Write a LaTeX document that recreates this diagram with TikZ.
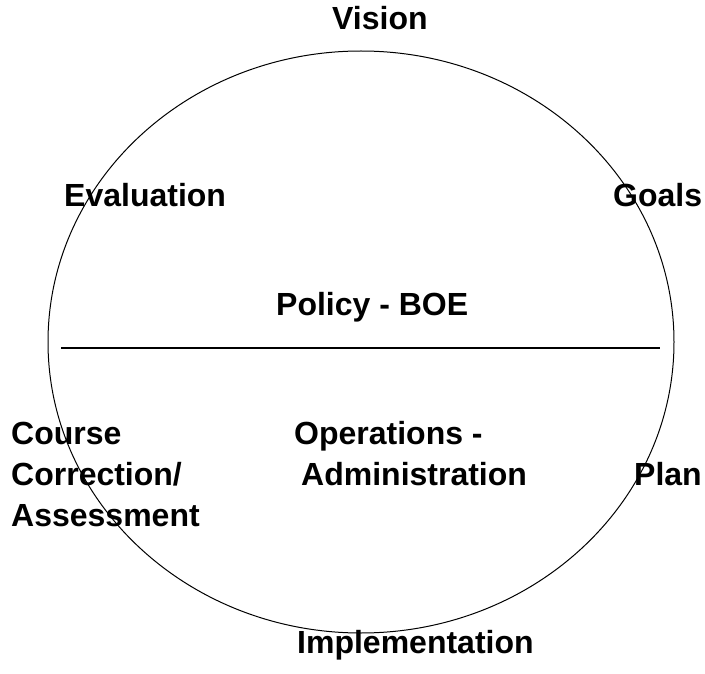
\documentclass[tikz,border=0pt]{standalone}
\usepackage{fontspec}
\setmainfont{Liberation Sans}
\usepackage{tikz}

\tikzset{
    lbl/.style = {font=\bfseries\fontsize{32}{38}\selectfont,
        inner sep=0pt, anchor=base west},
}

\begin{document}
\begin{tikzpicture} [x = 1pt, y = -1pt]
    \useasboundingbox (0, 0) rectangle (705, 674);

    % the cycle
    \draw[line width = 1pt] (361, 342) ellipse [x radius = 313, y radius = 291];
    \draw[line width = 2pt] (61, 348) -- (660, 348);

    \node[lbl] (vision) at (332, 30) {Vision};
    \node[lbl] (goals) at (613, 207) {Goals};
    \node[lbl] (plan) at (634, 485) {Plan};
    \node[lbl] (impl) at (297, 653) {Implementation};
    \node[lbl] (course1) at (11, 444) {Course};
    \node[lbl] (course2) at (11, 485) {Correction/};
    \node[lbl] (course3) at (11, 526) {Assessment};
    \node[lbl] (eval) at (64, 207) {Evaluation};

    % centre
    \node[lbl] (policy) at (276, 315) {Policy - BOE};
    \node[lbl] (oper1) at (294, 444) {Operations -};
    \node[lbl] (oper2) at (301, 485) {Administration};
\end{tikzpicture}
\end{document}
